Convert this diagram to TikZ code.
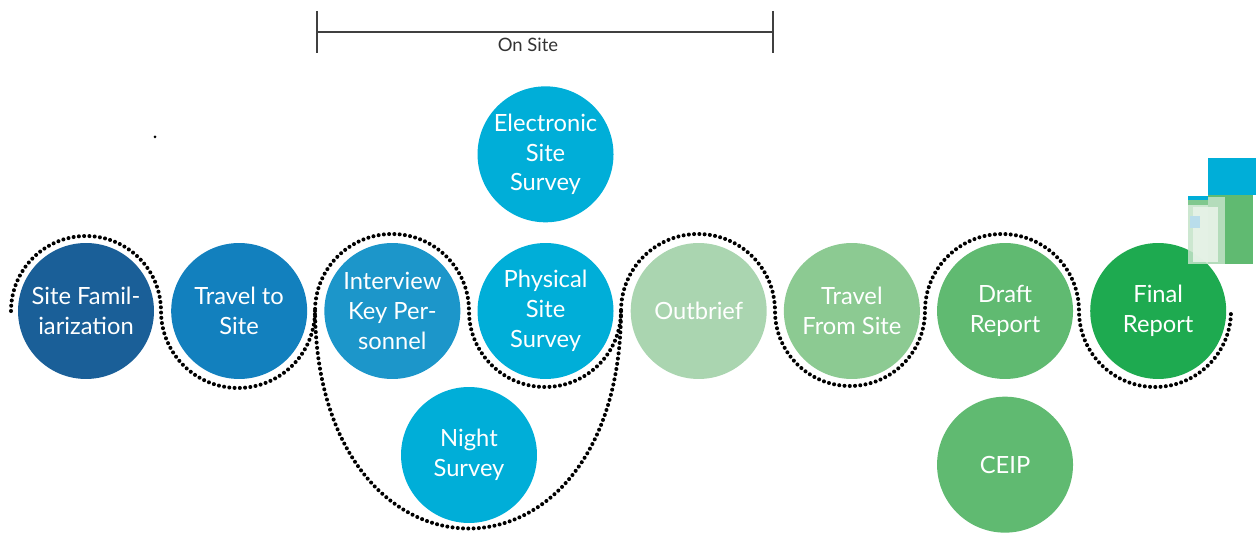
\documentclass[tikz,border=0pt]{standalone}
\usepackage{fontspec}
\setmainfont{Lato}
\usetikzlibrary{positioning}

\definecolor{famblue}{HTML}{1A5F98}
\definecolor{travblue}{HTML}{1280BE}
\definecolor{intblue}{HTML}{1C96CA}
\definecolor{survcyan}{HTML}{00AED8}
\definecolor{outgreen}{HTML}{AAD5B0}
\definecolor{tfsgreen}{HTML}{8CCA92}
\definecolor{draftgreen}{HTML}{60BA71}
\definecolor{finalgreen}{HTML}{1EAA50}
\definecolor{patchlight}{HTML}{C3E3C8}
\definecolor{patchpale}{HTML}{E8F3E8}
\definecolor{patchblue}{HTML}{B9DDEB}

\begin{document}
\begin{tikzpicture}[x=0.02cm,y=0.02cm,node distance=0.33cm,
  phase/.style={circle,minimum size=2.72cm,inner sep=0pt,text=white,align=center,
    font=\fontsize{13.5}{17}\selectfont},
  dots/.style={line width=2.3pt,dash pattern=on 0pt off 3pt,line cap=round},
  bar/.style={draw=black!75,line width=0.8pt}]
  \useasboundingbox (0,0) rectangle (1258,534);

  % main row
  \node[phase,fill=famblue] (fam) at (86,223) {Site Famil-\\iarization};
  \node[phase,fill=travblue,right=of fam] (trav) {Travel to\\Site};
  \node[phase,fill=intblue,right=of trav] (int) {Interview\\Key Per-\\sonnel};
  \node[phase,fill=survcyan,right=of int] (phys) {Physical\\Site\\Survey};
  \node[phase,fill=outgreen,right=of phys] (out) {Outbrief};
  \node[phase,fill=tfsgreen,right=of out] (tfs) {Travel\\From Site};
  \node[phase,fill=draftgreen,right=of tfs] (draft) {Draft\\Report};
  \node[phase,fill=finalgreen,right=of draft] (final) {Final\\Report};
  % side steps
  \node[phase,fill=survcyan,above=0.4cm of phys] (elec) {Electronic\\Site\\Survey};
  \node[phase,fill=survcyan] (night) at (469,79) {Night\\Survey};
  \node[phase,fill=draftgreen,below=0.34cm of draft] (ceip) {CEIP};

  % dotted track
  \draw[dots] (fam.center) ++(-75,0) arc[start angle=180,end angle=0,radius=75]
    arc[start angle=180,end angle=360,radius=77] coordinate (j1)
    arc[start angle=180,end angle=0,radius=77]
    arc[start angle=180,end angle=360,radius=76] coordinate (j2)
    arc[start angle=180,end angle=0,radius=77]
    arc[start angle=180,end angle=360,radius=75]
    arc[start angle=180,end angle=0,radius=77]
    arc[start angle=180,end angle=360,radius=76];
  \draw[dots] (j1) .. controls +(3,-290) and +(-1,-290) .. (j2);
  \fill (155,397) circle (1.5);

  % on site bracket
  \coordinate (osl) at (317,502);
  \coordinate (osr) at (773,502);
  \draw[bar] (osl) -- (osr);
  \draw[bar] (osl) ++(0,21) -- ++(0,-42);
  \draw[bar] (osr) ++(0,21) -- ++(0,-42);
  \node[font=\fontsize{10.5}{12}\selectfont,text=black!80] (onsite) at (528,489) {On Site};

  % patch in the corner
  \fill[survcyan] (1208,376) rectangle (1256,339);
  \fill[draftgreen] (1208,339) rectangle (1253,270);
  \fill[patchlight,opacity=.85] (1188,337) rectangle (1225,270);
  \fill[survcyan] (1188,338) rectangle (1208,334);
  \fill[draftgreen!80] (1188,334) rectangle (1208,329);
  \fill[patchpale,opacity=.9] (1193,327) rectangle (1218,272);
  \fill[patchblue] (1190,318) rectangle (1200,306);
\end{tikzpicture}
\end{document}
